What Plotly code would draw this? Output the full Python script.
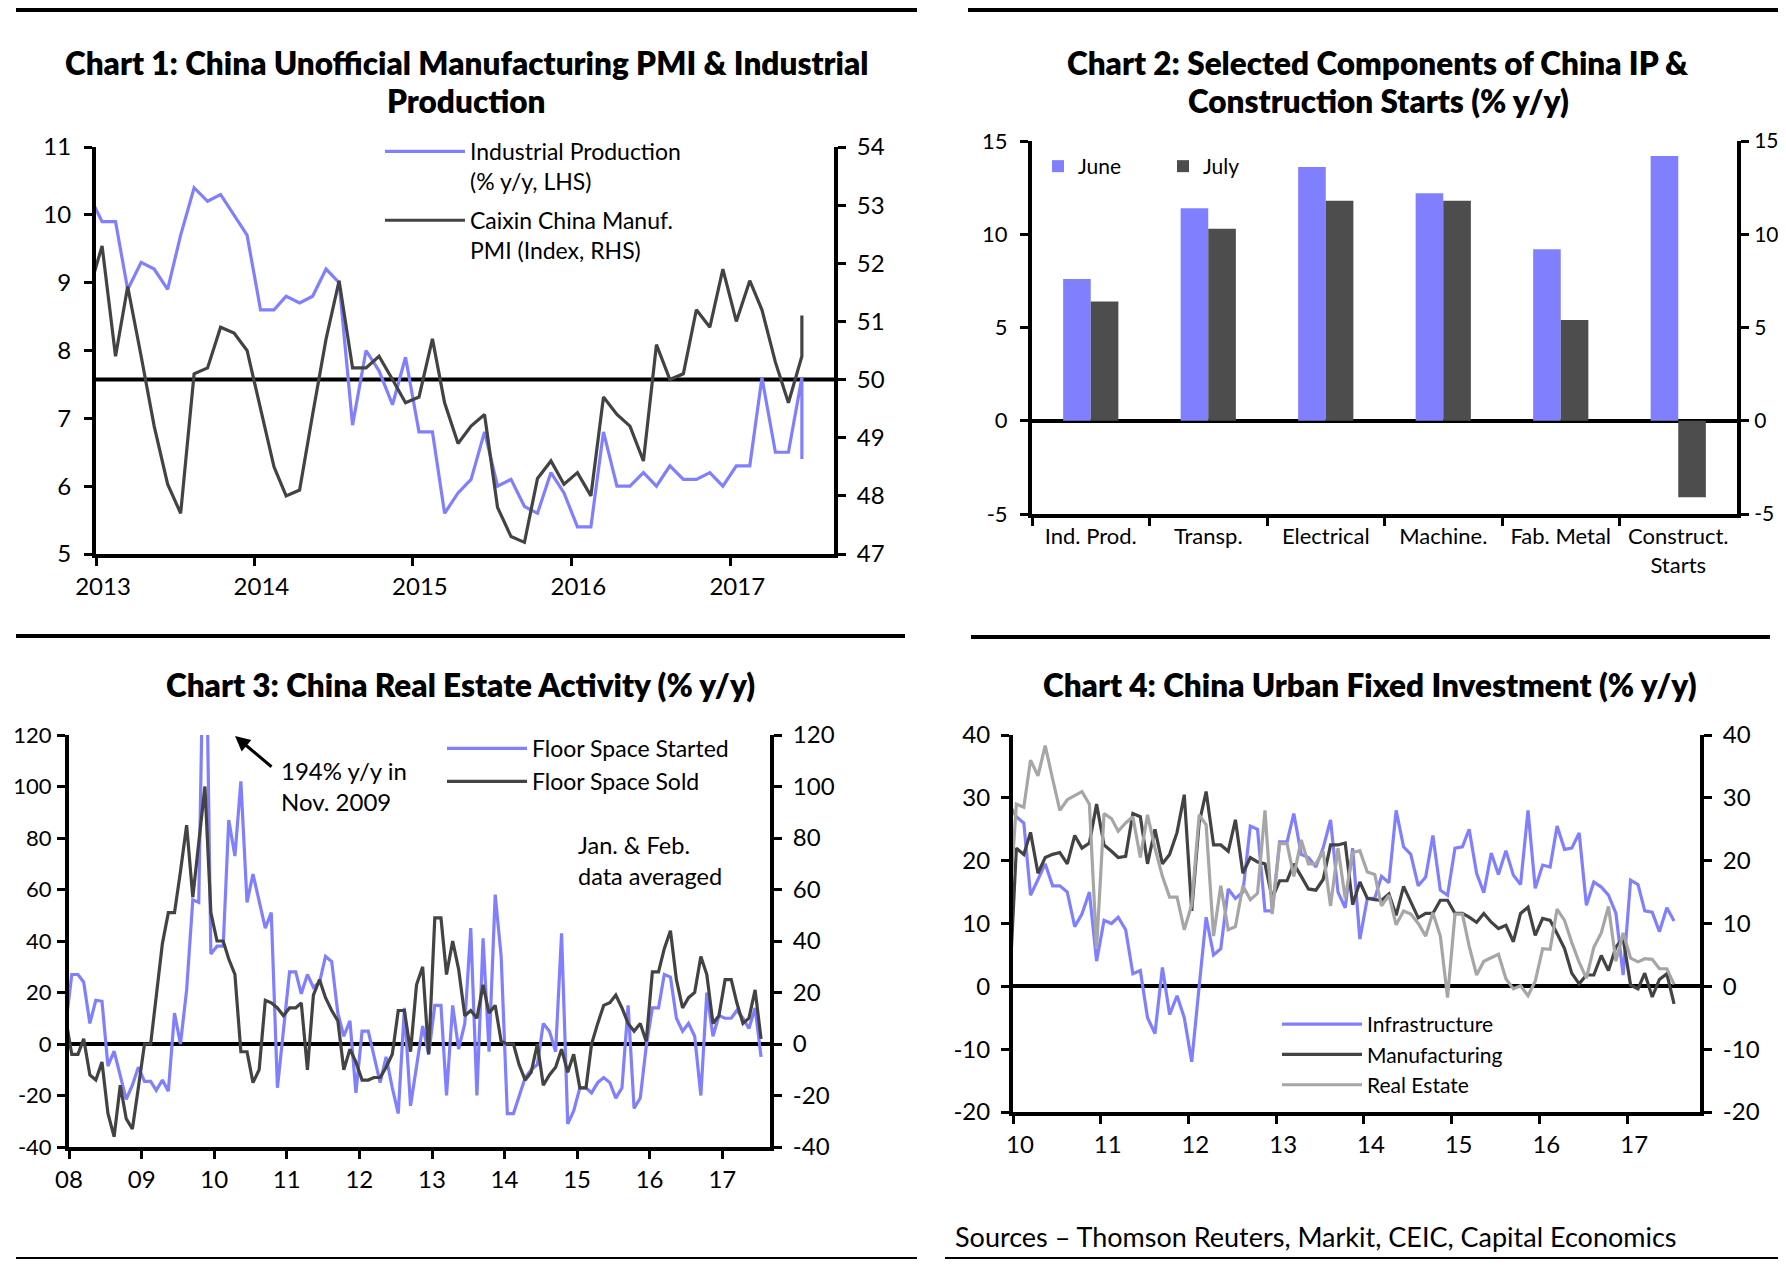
import pandas as pd
import plotly.graph_objects as go

# ---------------- DATA ----------------
# Chart 1: monthly, Dec 2012 - Jul 2017
c1_months = pd.period_range("2012-12", "2017-07", freq="M")
ip_yoy = [10.3,
          9.9, 9.9, 8.9, 9.3, 9.2, 8.9, 9.7, 10.4, 10.2, 10.3, 10.0, 9.7,
          8.6, 8.6, 8.8, 8.7, 8.8, 9.2, 9.0, 6.9, 8.0, 7.7, 7.2, 7.9,
          6.8, 6.8, 5.6, 5.9, 6.1, 6.8, 6.0, 6.1, 5.7, 5.6, 6.2, 5.9,
          5.4, 5.4, 6.8, 6.0, 6.0, 6.2, 6.0, 6.3, 6.1, 6.1, 6.2, 6.0,
          6.3, 6.3, 7.6, 6.5, 6.5, 7.6, 6.4]
caixin_pmi = [51.5,
              52.3, 50.4, 51.6, 50.4, 49.2, 48.2, 47.7, 50.1, 50.2, 50.9, 50.8, 50.5,
              49.5, 48.5, 48.0, 48.1, 49.4, 50.7, 51.7, 50.2, 50.2, 50.4, 50.0, 49.6,
              49.7, 50.7, 49.6, 48.9, 49.2, 49.4, 47.8, 47.3, 47.2, 48.3, 48.6, 48.2,
              48.4, 48.0, 49.7, 49.4, 49.2, 48.6, 50.6, 50.0, 50.1, 51.2, 50.9, 51.9,
              51.0, 51.7, 51.2, 50.3, 49.6, 50.4, 51.1]

# Chart 2
c2_categories = ["Ind. Prod.", "Transp.", "Electrical", "Machine.", "Fab. Metal",
                 "Construct.<br>Starts"]
c2_june = [7.6, 11.4, 13.6, 12.2, 9.2, 14.2]
c2_july = [6.4, 10.3, 11.8, 11.8, 5.4, -4.1]

# Chart 3: monthly, Dec 2007 - Jul 2017
c3_months = pd.period_range("2007-12", "2017-07", freq="M")
floor_started = [7,
    27, 27, 24, 8, 17, 16.6, -8.6, -2.8, -12.5, -21.5, -16, -9,
    -14.5, -14.5, -18, -14, -18.3, 12, 0, 21, 56, 55, 194, 35,
    38, 38, 87, 73, 102, 55, 66, 56, 45, 51, -17, 5,
    28, 28, 19.5, 27, 22, 24, 34, 32, 12, 3, 9, -19,
    5, 5, -5, -15, -5, -17, -27, 14, -24, -8, 7, -4,
    15, 15, -20, 15, -2, 8, 45, -20, 41, -3, 58, 34,
    -27, -27, -20, -13, -10, -8, 8, 5, -3, 43, -31, -26,
    -17, -17, -19, -15, -13, -15, -21, -17, 15, -25, -21, -1,
    14, 14, 27, 26, 10, 5, 8, 3, -20, 20, 3, 11,
    10, 10, 13, 10, 6, 14, -5]
floor_sold = [10,
    -4, -4, 2, -12, -14, -7, -27, -36, -16, -29, -33, -17,
    0, 0, 18, 39, 51, 51, 67, 85, 57, 78, 100, 51,
    40, 40, 33, 27, -3, -3, -15, -10, 17, 16, 14, 11,
    14, 14, 16, -10, 19, 25, 18, 13, 9, -10, -2, -7,
    -14, -14, -13, -13, -9, -4, 13, 13, -3, 23, 30, -4,
    49, 49, 27, 40, 29, 11, 13, 10, 23, 12, 15, 1,
    0, 0, -8, -14, -11, 0, -16, -12, -9, -2, -11, -4,
    -17, -17, 0, 8, 15, 16, 19, 14, 8, 5, 8, 1,
    28, 28, 37, 44, 25, 14, 18, 20, 34, 27, 8, 11,
    25, 25, 16, 8, 10, 21, 2]

# Chart 4: monthly, Dec 2009 - Jul 2017
c4_months = pd.period_range("2009-12", "2017-07", freq="M")
fai_infra = [29,
    27, 26, 14.5, 17, 19.5, 16, 16, 15, 9.5, 11.5, 15, 4,
    10.5, 10, 11, 9, 2, 2.5, -5, -7.5, 3, -4.5, -1.5, -5,
    -12, 0, 11, 5, 6, 15.5, 14, 15, 25.5, 25, 12, 12,
    23, 23, 27.5, 21, 20.5, 19, 22, 26.5, 15, 12.5, 22, 7.5,
    14, 14, 17.5, 16.5, 28, 22.2, 21, 16, 17.4, 24, 15.3, 14.5,
    22, 22.2, 25, 18, 14.9, 21.2, 17.8, 21.6, 17.7, 16.2, 28, 15.6,
    19.3, 19, 25.5, 21.8, 22, 24.4, 12.9, 16.6, 15.8, 14.5, 11.6, 1.8,
    16.9, 16.2, 12, 11.8, 8.7, 12.5, 10.4]
fai_manuf = [-2,
    22, 21, 24.5, 18, 20.5, 21, 21.3, 19.5, 24, 22, 22.8, 29,
    22.5, 21.5, 20.5, 20.7, 27.5, 27, 19.5, 25, 19.5, 21, 24.5, 30.5,
    12, 26, 31, 22.5, 22.5, 21.5, 26.5, 18, 20.5, 19.8, 19.5, 14,
    16.8, 16.8, 19.5, 17.5, 15.5, 15.3, 17, 22.5, 22.5, 22.8, 13, 16.6,
    14, 13.8, 13.7, 14.7, 11.3, 15.9, 13.4, 10.9, 11.6, 11.6, 13.7, 13.7,
    11.6, 11.6, 11, 10.2, 11.6, 10.2, 9.2, 9.7, 7.1, 11.6, 12.6, 8.1,
    10.8, 10.5, 8.4, 6, 2.1, 0.4, 1.8, 1.8, 4.9, 2.5, 6.3, 7.6,
    0.2, -0.4, 2.1, -1.7, 1.1, 2, -2.8]
fai_realestate = [11,
    29, 28.5, 36, 33.5, 38.3, 33, 28, 29.7, 30.4, 31, 29, 6,
    27.5, 26.7, 24.7, 26, 27, 20.5, 27.3, 22, 17.5, 14.2, 14.2, 9,
    13, 27.3, 25.7, 8, 16, 9, 9.5, 16, 13.8, 14.8, 28, 11.5,
    22.7, 22.7, 17.5, 23.3, 19.5, 19.5, 21.5, 12.8, 22, 14, 21.3, 21.6,
    18.2, 17.8, 12.8, 14.5, 9.8, 12, 11.5, 10, 8, 11.7, 8, -1.8,
    11.5, 11.5, 6.4, 1.8, 4, 4.6, 5.1, 1.2, -0.4, 0.1, -1.5, 0.8,
    6, 5.9, 12.3, 10.5, 7, 3.8, 1.3, 6.2, 8.5, 12.7, 4, 8.5,
    4.5, 3.9, 4.4, 4.3, 2.8, 2.8, 0.3]

# tick values / labels
c1_left_ticks = [5, 6, 7, 8, 9, 10, 11]
c1_right_ticks = [47, 48, 49, 50, 51, 52, 53, 54]
c2_ticks = [-5, 0, 5, 10, 15]
c3_ticks = [-40, -20, 0, 20, 40, 60, 80, 100, 120]
c4_ticks = [-20, -10, 0, 10, 20, 30, 40]

# ---------------- STYLE ----------------
OFF = 8                      # page body margin
FW, FH = 1786 - 2 * OFF, 1267 - 2 * OFF
BLUE = "#8080FF"
DARK = "#434343"
GREY = "#A6A6A6"
BAR_DARK = "#4D4D4D"
BODY = "Lato, 'Open Sans', sans-serif"
LW = 3.2


def mid(periods):
    return [p.start_time + pd.Timedelta(days=14) for p in periods]


def px(v):
    return (v - OFF) / FW


def py(v):
    return 1 - (v - OFF) / FH


def dom_x(a, b):
    return [px(a), px(b)]


def dom_y(top, bottom):
    return [py(bottom), py(top)]


def labels(vals):
    return [str(v) for v in vals]


F24 = dict(family=BODY, size=24, color="black")
F22 = dict(family=BODY, size=22, color="black")
F21 = dict(family=BODY, size=21, color="black")

AX = dict(showline=True, linecolor="black", linewidth=4, ticks="outside",
          ticklen=8, tickwidth=3, tickcolor="black", showgrid=False,
          zeroline=False, fixedrange=True, automargin=False, tickfont=F24)


def ax(**kw):
    d = dict(AX)
    d.update(kw)
    return d


c1_x = mid(c1_months)
c1_x[-1] = c1_x[-2]  # July 2017 reading plotted at the June position, as in the original
c3_x = mid(c3_months)
c4_x = mid(c4_months)

fig = go.Figure()

# Chart 1
fig.add_trace(go.Scatter(x=c1_x, y=ip_yoy, mode="lines",
                         name="Industrial Production<br>(% y/y, LHS)",
                         line=dict(color=BLUE, width=LW),
                         xaxis="x", yaxis="y", legend="legend", legendgroup="a"))
fig.add_trace(go.Scatter(x=c1_x, y=caixin_pmi, mode="lines",
                         name="Caixin China Manuf.<br>PMI (Index, RHS)",
                         line=dict(color=DARK, width=LW),
                         xaxis="x", yaxis="y2", legend="legend", legendgroup="b"))

# Chart 2
fig.add_trace(go.Bar(x=c2_categories, y=c2_june, name="June",
                     marker=dict(color=BLUE, line=dict(width=0)),
                     xaxis="x2", yaxis="y3", legend="legend2"))
fig.add_trace(go.Bar(x=c2_categories, y=c2_july, name="July",
                     marker=dict(color=BAR_DARK, line=dict(width=0)),
                     xaxis="x2", yaxis="y3", legend="legend2"))

# Chart 3
fig.add_trace(go.Scatter(x=c3_x, y=floor_started, mode="lines", name="Floor Space Started",
                         line=dict(color=BLUE, width=LW),
                         xaxis="x3", yaxis="y5", legend="legend3"))
fig.add_trace(go.Scatter(x=c3_x, y=floor_sold, mode="lines", name="Floor Space Sold",
                         line=dict(color=DARK, width=LW),
                         xaxis="x3", yaxis="y5", legend="legend3"))

# Chart 4
fig.add_trace(go.Scatter(x=c4_x, y=fai_infra, mode="lines", name="Infrastructure",
                         line=dict(color=BLUE, width=LW),
                         xaxis="x4", yaxis="y7", legend="legend4"))
fig.add_trace(go.Scatter(x=c4_x, y=fai_manuf, mode="lines", name="Manufacturing",
                         line=dict(color=DARK, width=LW),
                         xaxis="x4", yaxis="y7", legend="legend4"))
fig.add_trace(go.Scatter(x=c4_x, y=fai_realestate, mode="lines", name="Real Estate",
                         line=dict(color=GREY, width=LW),
                         xaxis="x4", yaxis="y7", legend="legend4"))

# Transparent copies so the mirrored right-hand axes get drawn
for xs, ys, xa, ya in [(c2_categories, c2_june, "x2", "y4"),
                       (c3_x, floor_sold, "x3", "y6"),
                       (c4_x, fai_manuf, "x4", "y8")]:
    fig.add_trace(go.Scatter(x=xs, y=ys, mode="lines", opacity=0, showlegend=False,
                             hoverinfo="skip", line=dict(width=0.1, color="white"),
                             xaxis=xa, yaxis=ya))

zl = dict(zeroline=True, zerolinecolor="black", zerolinewidth=4)

layout = dict(
    width=FW, height=FH, autosize=False,
    margin=dict(l=0, r=0, t=0, b=0, pad=0, autoexpand=False),
    paper_bgcolor="white", plot_bgcolor="white",
    font=dict(family=BODY, size=22, color="black"),
    barmode="group", bargap=0.53, bargroupgap=0,
    # Chart 1
    xaxis=ax(domain=dom_x(96, 834), anchor="y", type="date",
             range=["2013-01-01", "2017-08-28"], dtick="M12", tick0="2013-01-01",
             tickformat="%Y", ticklabelshift=7),
    yaxis=ax(domain=dom_y(147, 554), anchor="x", range=[5, 11],
             tickvals=c1_left_ticks, ticktext=labels(c1_left_ticks), ticklabelstandoff=8),
    yaxis2=ax(overlaying="y", side="right", anchor="x", range=[47, 54],
              tickvals=c1_right_ticks, ticktext=labels(c1_right_ticks), ticklabelstandoff=6),
    # Chart 2
    xaxis2=ax(domain=dom_x(1032, 1737), anchor="y3", type="category",
              range=[-0.5, 5.5], tickson="boundaries", tickfont=F22),
    yaxis3=ax(domain=dom_y(141, 514), anchor="x2", range=[-5, 15],
              tickvals=c2_ticks, ticktext=labels(c2_ticks), ticklabelstandoff=8,
              tickfont=F22, **zl),
    yaxis4=ax(overlaying="y3", side="right", anchor="x2", range=[-5, 15],
              tickvals=c2_ticks, ticktext=labels(c2_ticks), ticklabelstandoff=1,
              tickfont=F21),
    # Chart 3
    xaxis3=ax(domain=dom_x(69, 770), anchor="y5", type="date",
              range=["2008-01-01", "2017-08-29"], dtick="M12", tick0="2008-01-01",
              tickformat="%y"),
    yaxis5=ax(domain=dom_y(735, 1147), anchor="x3", range=[-40, 120],
              tickvals=c3_ticks, ticktext=labels(c3_ticks), ticklabelstandoff=1,
              tickfont=F22, **zl),
    yaxis6=ax(overlaying="y5", side="right", anchor="x3", range=[-40, 120],
              tickvals=c3_ticks, ticktext=labels(c3_ticks), ticklabelstandoff=6),
    # Chart 4
    xaxis4=ax(domain=dom_x(1013, 1700), anchor="y7", type="date",
              range=["2010-01-01", "2017-10-31"], dtick="M12", tick0="2010-01-01",
              tickformat="%y", ticklabelshift=7),
    yaxis7=ax(domain=dom_y(735, 1112), anchor="x4", range=[-20, 40],
              tickvals=c4_ticks, ticktext=labels(c4_ticks), ticklabelstandoff=6, **zl),
    yaxis8=ax(overlaying="y7", side="right", anchor="x4", range=[-20, 40],
              tickvals=c4_ticks, ticktext=labels(c4_ticks), ticklabelstandoff=6),
    # Legends
    legend=dict(x=px(380), y=py(130), xanchor="left", yanchor="top",
                bgcolor="rgba(0,0,0,0)", font=dict(family=BODY, size=23),
                itemwidth=80, valign="top", tracegroupgap=6),
    legend2=dict(x=px(1038), y=py(146), xanchor="left", yanchor="top",
                 orientation="h", bgcolor="rgba(0,0,0,0)",
                 font=dict(family=BODY, size=21), entrywidth=80, itemwidth=30),
    legend3=dict(x=px(442), y=py(727), xanchor="left", yanchor="top",
                 bgcolor="rgba(0,0,0,0)", font=dict(family=BODY, size=23), itemwidth=80),
    legend4=dict(x=px(1277), y=py(1004), xanchor="left", yanchor="top",
                 bgcolor="rgba(0,0,0,0)", font=dict(family=BODY, size=21), itemwidth=80),
)
fig.update_layout(**layout)

# 50 line on PMI axis
fig.add_shape(type="line", xref="x domain", x0=0, x1=1, yref="y2", y0=50, y1=50,
              line=dict(color="black", width=4), layer="below")

# Section rules
rules = [(16, 917, 10), (968, 1778, 10), (16, 905, 636), (971, 1770, 637),
         (16, 917, 1259), (945, 1778, 1259)]
for x0, x1, yy in rules:
    fig.add_shape(type="line", xref="paper", yref="paper", x0=px(x0), x1=px(x1),
                  y0=py(yy), y1=py(yy), line=dict(color="black", width=4))

TFONT = dict(family=BODY, size=31.5, color="black", weight=800)
titles = [
    ("Chart 1: China Unofficial Manufacturing PMI &amp; Industrial", 466, 63),
    ("Production", 466, 101),
    ("Chart 2: Selected Components of China IP &amp;", 1378, 63),
    ("Construction Starts (% y/y)", 1378, 101),
    ("Chart 3: China Real Estate Activity (% y/y)", 460, 685),
    ("Chart 4: China Urban Fixed Investment (% y/y)", 1370, 685),
]
for txt, tx, ty in titles:
    fig.add_annotation(xref="paper", yref="paper", showarrow=False, xanchor="center",
                       yanchor="middle", font=TFONT, text=txt, x=px(tx), y=py(ty))

fig.add_annotation(xref="paper", yref="paper", x=px(235), y=py(736), text="",
                   showarrow=True, ax=38, ay=32, arrowhead=2, arrowsize=1,
                   arrowwidth=3, arrowcolor="black")
fig.add_annotation(xref="paper", yref="paper", x=px(279), y=py(786),
                   text="194% y/y in<br>Nov. 2009", showarrow=False, xanchor="left",
                   yanchor="middle", align="left", font=F24)
fig.add_annotation(xref="paper", yref="paper", x=px(576), y=py(860),
                   text="Jan. &amp; Feb.<br>data averaged", showarrow=False, xanchor="left",
                   yanchor="middle", align="left", font=dict(family=BODY, size=23.5))
fig.add_annotation(xref="paper", yref="paper", x=px(953), y=py(1236),
                   text="Sources \u2013 Thomson Reuters, Markit, CEIC, Capital Economics",
                   showarrow=False, xanchor="left", yanchor="middle",
                   font=dict(family=BODY, size=27))

fig.write_html("out.html", config={"responsive": False, "displayModeBar": False})
